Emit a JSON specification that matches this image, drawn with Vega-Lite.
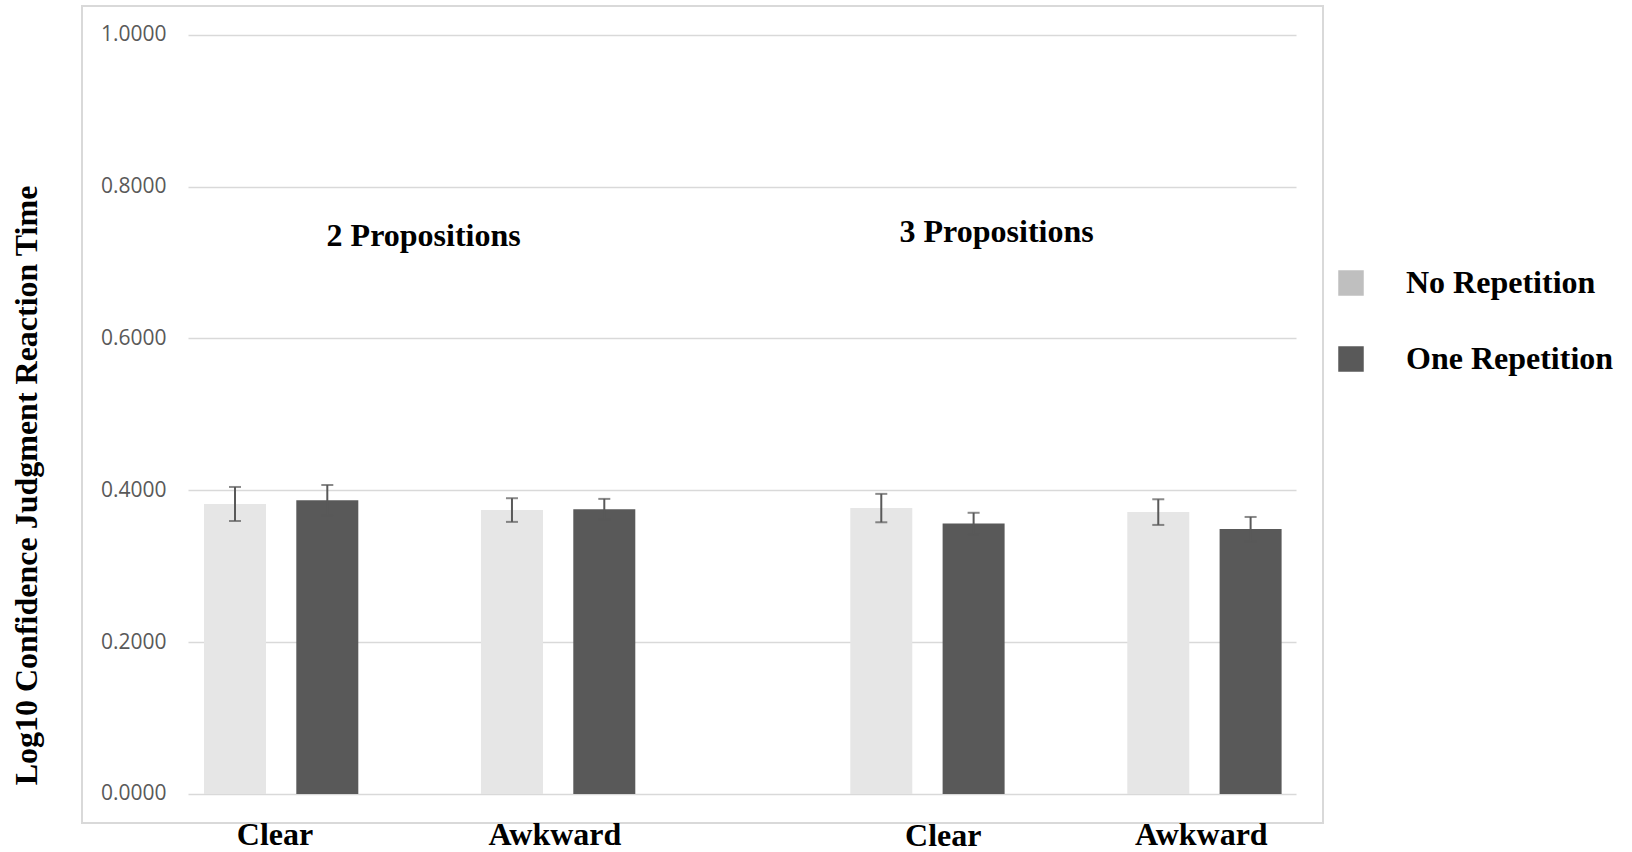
{
  "$schema": "https://vega.github.io/schema/vega-lite/v6.json",
  "width": 1241,
  "height": 817,
  "autosize": {"type": "none"},
  "padding": {"left": 82, "top": 6, "right": 309, "bottom": 29},
  "background": "white",
  "config": {"view": {"stroke": "#d9d9d9", "strokeWidth": 2}},
  "data": {
    "values": [
      {"Propositions": "2 Propositions", "Sentence": "Clear", "Repetition": "No Repetition", "bar": "2P Clear No", "mean": 0.382, "se": 0.0224},
      {"Propositions": "2 Propositions", "Sentence": "Clear", "Repetition": "One Repetition", "bar": "2P Clear One", "mean": 0.387, "se": 0.020},
      {"Propositions": "2 Propositions", "Sentence": "Awkward", "Repetition": "No Repetition", "bar": "2P Awkward No", "mean": 0.374, "se": 0.0156},
      {"Propositions": "2 Propositions", "Sentence": "Awkward", "Repetition": "One Repetition", "bar": "2P Awkward One", "mean": 0.375, "se": 0.0137},
      {"Propositions": "3 Propositions", "Sentence": "Clear", "Repetition": "No Repetition", "bar": "3P Clear No", "mean": 0.3766, "se": 0.0187},
      {"Propositions": "3 Propositions", "Sentence": "Clear", "Repetition": "One Repetition", "bar": "3P Clear One", "mean": 0.3564, "se": 0.014},
      {"Propositions": "3 Propositions", "Sentence": "Awkward", "Repetition": "No Repetition", "bar": "3P Awkward No", "mean": 0.3713, "se": 0.0169},
      {"Propositions": "3 Propositions", "Sentence": "Awkward", "Repetition": "One Repetition", "bar": "3P Awkward One", "mean": 0.3489, "se": 0.016}
    ]
  },
  "resolve": {"scale": {"color": "independent"}, "legend": {"color": "independent"}},
  "layer": [
    {
      "mark": {"type": "bar"},
      "encoding": {
        "x": {
          "field": "bar",
          "type": "nominal",
          "scale": {
            "domain": ["2P Clear No", "2P Clear One", "gap1", "2P Awkward No", "2P Awkward One", "gap2", "gap3", "3P Clear No", "3P Clear One", "gap4", "3P Awkward No", "3P Awkward One"],
            "range": [106, 1214],
            "paddingInner": 0.3285,
            "paddingOuter": 0.1645,
            "align": 0.526
          },
          "axis": null
        },
        "y": {
          "field": "mean",
          "type": "quantitative",
          "title": "Log10 Confidence Judgment Reaction Time",
          "scale": {"domain": [-0.0382, 1.0379], "nice": false},
          "axis": {
            "values": [0, 0.2, 0.4, 0.6, 0.8, 1.0],
            "format": ".4f",
            "domain": false,
            "ticks": false,
            "tickSize": 0,
            "grid": true,
            "gridColor": "#d9d9d9",
            "gridWidth": 1.5,
            "labelPadding": -84,
            "labelFont": "Open Sans",
            "labelFontSize": 21,
            "labelColor": "#595959",
            "titleFont": "Liberation Serif",
            "titleFontWeight": "bold",
            "titleFontSize": 32,
            "titleColor": "black",
            "titleAngle": -90,
            "titleAlign": "center",
            "titleBaseline": "alphabetic",
            "titleX": -46,
            "titleY": 479
          }
        },
        "color": {
          "field": "Repetition",
          "type": "nominal",
          "scale": {"domain": ["No Repetition", "One Repetition"], "range": ["#e6e6e6", "#595959"]},
          "legend": null
        }
      }
    },
    {
      "mark": {"type": "errorbar", "color": "#595959", "thickness": 2, "ticks": {"size": 12, "thickness": 2, "color": "#595959"}},
      "encoding": {
        "x": {"field": "bar", "type": "nominal"},
        "y": {"field": "mean", "type": "quantitative", "title": "Log10 Confidence Judgment Reaction Time"},
        "yError": {"field": "se"}
      }
    },
    {
      "mark": {"type": "square", "opacity": 0},
      "encoding": {
        "x": {"field": "bar", "type": "nominal"},
        "y": {"field": "mean", "type": "quantitative", "title": "Log10 Confidence Judgment Reaction Time"},
        "color": {
          "field": "Repetition",
          "type": "nominal",
          "scale": {"domain": ["No Repetition", "One Repetition"], "range": ["#bfbfbf", "#595959"]},
          "legend": {
            "orient": "none",
            "legendX": 1253,
            "legendY": 261,
            "title": null,
            "padding": 0,
            "symbolType": "square",
            "symbolSize": 650,
            "symbolStrokeWidth": 0,
            "symbolOpacity": 1,
            "labelFont": "Liberation Serif",
            "labelFontWeight": "bold",
            "labelFontSize": 32,
            "labelColor": "black",
            "labelLimit": 0,
            "labelOffset": 39,
            "rowPadding": 44
          }
        }
      }
    },
    {
      "data": {"values": [{"label": "2 Propositions"}]},
      "mark": {"type": "text", "font": "Liberation Serif", "fontWeight": "bold", "fontSize": 32, "color": "black", "baseline": "alphabetic", "align": "center", "dx": 4},
      "encoding": {"x": {"datum": "gap1"}, "y": {"datum": 0.7215}, "text": {"field": "label"}}
    },
    {
      "data": {"values": [{"label": "3 Propositions"}]},
      "mark": {"type": "text", "font": "Liberation Serif", "fontWeight": "bold", "fontSize": 32, "color": "black", "baseline": "alphabetic", "align": "center", "dx": 23},
      "encoding": {"x": {"datum": "3P Clear One"}, "y": {"datum": 0.7271}, "text": {"field": "label"}}
    },
    {
      "data": {"values": [{"label": "Clear"}]},
      "mark": {"type": "text", "font": "Liberation Serif", "fontWeight": "bold", "fontSize": 32, "color": "black", "baseline": "alphabetic", "align": "center", "dx": 40},
      "encoding": {"x": {"datum": "2P Clear No"}, "y": {"datum": -0.0671}, "text": {"field": "label"}}
    },
    {
      "data": {"values": [{"label": "Awkward"}]},
      "mark": {"type": "text", "font": "Liberation Serif", "fontWeight": "bold", "fontSize": 32, "color": "black", "baseline": "alphabetic", "align": "center", "dx": 43},
      "encoding": {"x": {"datum": "2P Awkward No"}, "y": {"datum": -0.0671}, "text": {"field": "label"}}
    },
    {
      "data": {"values": [{"label": "Clear"}]},
      "mark": {"type": "text", "font": "Liberation Serif", "fontWeight": "bold", "fontSize": 32, "color": "black", "baseline": "alphabetic", "align": "center", "dx": 62},
      "encoding": {"x": {"datum": "3P Clear No"}, "y": {"datum": -0.0685}, "text": {"field": "label"}}
    },
    {
      "data": {"values": [{"label": "Awkward"}]},
      "mark": {"type": "text", "font": "Liberation Serif", "fontWeight": "bold", "fontSize": 32, "color": "black", "baseline": "alphabetic", "align": "center", "dx": 43},
      "encoding": {"x": {"datum": "3P Awkward No"}, "y": {"datum": -0.0671}, "text": {"field": "label"}}
    }
  ]
}
